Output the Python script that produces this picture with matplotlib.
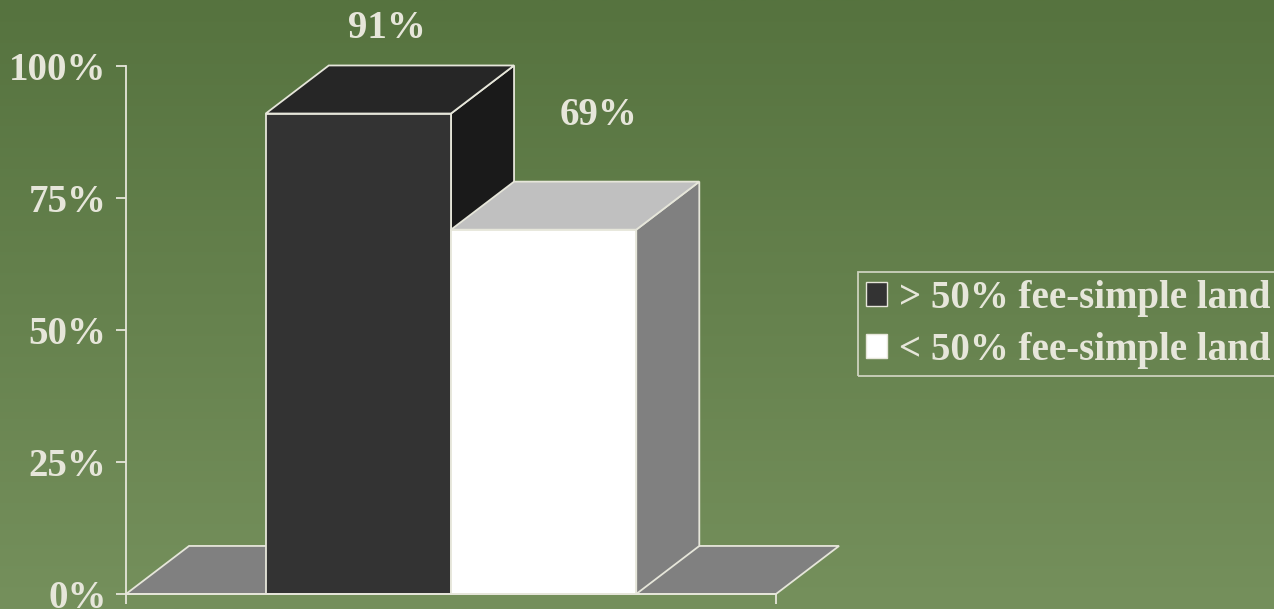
import numpy as np
import matplotlib.pyplot as plt
from matplotlib.patches import Polygon, Patch
from matplotlib.colors import LinearSegmentedColormap

# data
series = ['> 50% fee-simple land', '< 50% fee-simple land']
values = [91, 69]
y_ticks = [0, 25, 50, 75, 100]

# style
front_colors = ['#333333', '#ffffff']
top_colors = ['#262626', '#c0c0c0']
side_colors = ['#1a1a1a', '#808080']
floor_color = '#808080'
edge = '#e6e6da'
txt = '#e6e6da'
fsize = 28

W, H = 1274, 609
plt.rcParams['font.family'] = ['Liberation Serif', 'DejaVu Serif']
plt.rcParams['font.weight'] = 'bold'

fig = plt.figure(figsize=(W / 100, H / 100), dpi=100)

# green gradient background
bg = fig.add_axes([0, 0, 1, 1], zorder=-10)
cmap = LinearSegmentedColormap.from_list('bg', ['#56733f', '#75905c'])
bg.imshow(np.linspace(0, 1, 256).reshape(-1, 1), aspect='auto', cmap=cmap,
          extent=[0, 1, 0, 1], origin='upper')
bg.set_axis_off()

ax = fig.add_axes([126 / W, 15 / H, 650 / W, 528 / H])
ax.set_xlim(0, 1)
ax.set_ylim(0, 100)
ax.patch.set_alpha(0)

# depth of the 3d look, in data units
dx, dy = 0.097, 9.1
bar_w = 0.285
x0 = 0.5 - bar_w * len(values) / 2

def box(left, right, top, i):
    kw = dict(closed=True, edgecolor=edge, linewidth=1.3, clip_on=False, zorder=3 + i)
    front = [(left, 0), (right, 0), (right, top), (left, top)]
    topf = [(left, top), (right, top), (right + dx, top + dy), (left + dx, top + dy)]
    side = [(right, 0), (right + dx, dy), (right + dx, top + dy), (right, top)]
    ax.add_patch(Polygon(side, facecolor=side_colors[i], **kw))
    ax.add_patch(Polygon(topf, facecolor=top_colors[i], **kw))
    ax.add_patch(Polygon(front, facecolor=front_colors[i], **kw))

# floor
ax.add_patch(Polygon([(0, 0), (1, 0), (1 + dx, dy), (dx, dy)], closed=True,
                     facecolor=floor_color, edgecolor=edge, linewidth=1.3,
                     clip_on=False, zorder=2))

label_pad = [7.0, 12.5]
label_shift = [0.044, 0.085]
for i, v in enumerate(values):
    left = x0 + i * bar_w
    box(left, left + bar_w, v, i)
    ax.text(left + bar_w / 2 + label_shift[i], v + dy + label_pad[i], f'{v}%',
            ha='center', va='center', color=txt, fontsize=fsize, fontweight='bold')

for s in ['top', 'right']:
    ax.spines[s].set_visible(False)
for s in ['left', 'bottom']:
    ax.spines[s].set_color(edge)
    ax.spines[s].set_linewidth(1.3)
    ax.spines[s].set_zorder(10)
ax.set_yticks(y_ticks)
ax.set_yticklabels([f'{t}%' for t in y_ticks])
ax.set_xticks([0, 1])
ax.set_xticklabels([])
ax.tick_params(axis='both', colors=edge, length=7, width=1.3, labelsize=fsize, pad=7)
for lab in ax.get_yticklabels():
    lab.set_color(txt)
    lab.set_fontweight('bold')

handles = [Patch(facecolor=front_colors[i], edgecolor=edge, linewidth=1.0)
           for i in range(len(series))]
leg = fig.legend(handles, series, loc='upper left',
                 bbox_to_anchor=(858 / W, 1 - 272 / H), frameon=True,
                 fontsize=fsize, handlelength=0.55, handleheight=0.55,
                 handletextpad=0.3, labelspacing=0.38, borderpad=0.2,
                 borderaxespad=0, fancybox=False)
leg.get_frame().set_facecolor('none')
leg.get_frame().set_edgecolor(edge)
leg.get_frame().set_linewidth(1.3)
for t in leg.get_texts():
    t.set_color(txt)
    t.set_fontweight('bold')

fig.savefig('out.png', dpi=100)
